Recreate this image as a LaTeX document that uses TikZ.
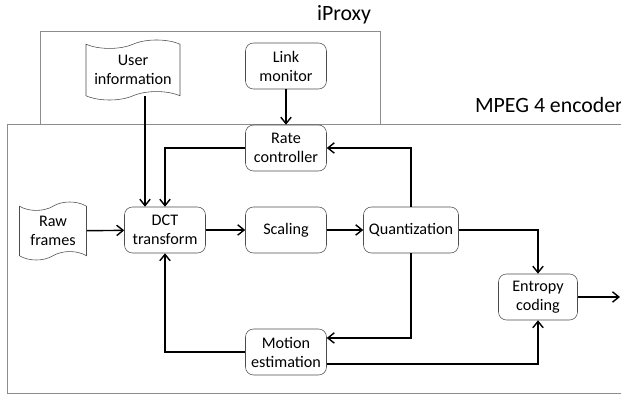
\documentclass[tikz,border=0pt]{standalone}
\usepackage{fontspec}
\setmainfont{Carlito}
\usepackage{tikz}
\usetikzlibrary{arrows.meta,calc,positioning,shapes.symbols}
\tikzset{>={Straight Barb[length=1.6mm,width=2.6mm]}}
\tikzset{
    blk/.style={draw=black!70, rounded corners=0.2cm, minimum width=2.025cm, minimum height=1.15cm, align=center, font=\fontsize{11.5}{13.5}\selectfont},
    docblk/.style={tape, draw=black!70, align=center, inner sep=1pt, tape bend height=6pt, font=\fontsize{11.5}{13.5}\selectfont},
    flow/.style={->, line width=1pt},
    area/.style={draw=black!45, line width=0.6pt},
    arealbl/.style={inner sep=0pt, font=\fontsize{15.5}{18}\selectfont}
}

\begin{document}
\begin{tikzpicture}[x=0.025cm,y=-0.025cm]
            \useasboundingbox (0,0) rectangle (621,399);
            \draw[area] (40,31) rectangle (380,124);
            \draw[area] (7,124) rectangle (640,393);
            \node[arealbl] (proxylbl) at (344,15) {iProxy};
            \node[arealbl, anchor=east] (mpeglbl) at (623,105) {MPEG 4 encoder};

            \node[docblk, minimum width=2.35cm, minimum height=1.5cm] (user) at (133,70) {User\\information};
            \node[blk] (link) at (286,66) {Link\\monitor};
            \node[blk] (rate) at (286,148) {Rate\\controller};
            \node[docblk, minimum width=1.675cm, minimum height=1.45cm] (raw) at (53,231) {Raw\\frames};
            \node[blk] (dct) at (165,230) {DCT\\transform};
            \node[blk] (scal) at (286,230) {Scaling};
            \node[blk, minimum width=2.375cm] (quant) at (411,230) {Quantization};
            \node[blk, minimum width=1.975cm] (ent) at (538,297) {Entropy\\coding};
            \node[blk] (motion) at (286,352) {Motion\\estimation};

            \coordinate (uin) at ($(dct.north)+(-20,0)$);
            \coordinate (out) at (620,297);
            \draw[flow] (uin |- user.south) -- (uin);
            \draw[flow] (link) -- (rate);
            \draw[flow] (rate.west) -| (dct.north);
            \draw[flow] (quant.north) |- (rate.east);
            \draw[flow] (raw) -- (dct);
            \draw[flow] (dct) -- (scal);
            \draw[flow] (scal) -- (quant);
            \draw[flow] (quant.east) -| (ent.north);
            \draw[flow] (quant.south) |- ($(motion.east)+(0,-14)$);
            \draw[flow] (motion.west) -| (dct.south);
            \draw[flow] ($(motion.east)+(0,12)$) -| (ent.south);
            \draw[flow] (ent.east) -- (out);
\end{tikzpicture}
\end{document}
